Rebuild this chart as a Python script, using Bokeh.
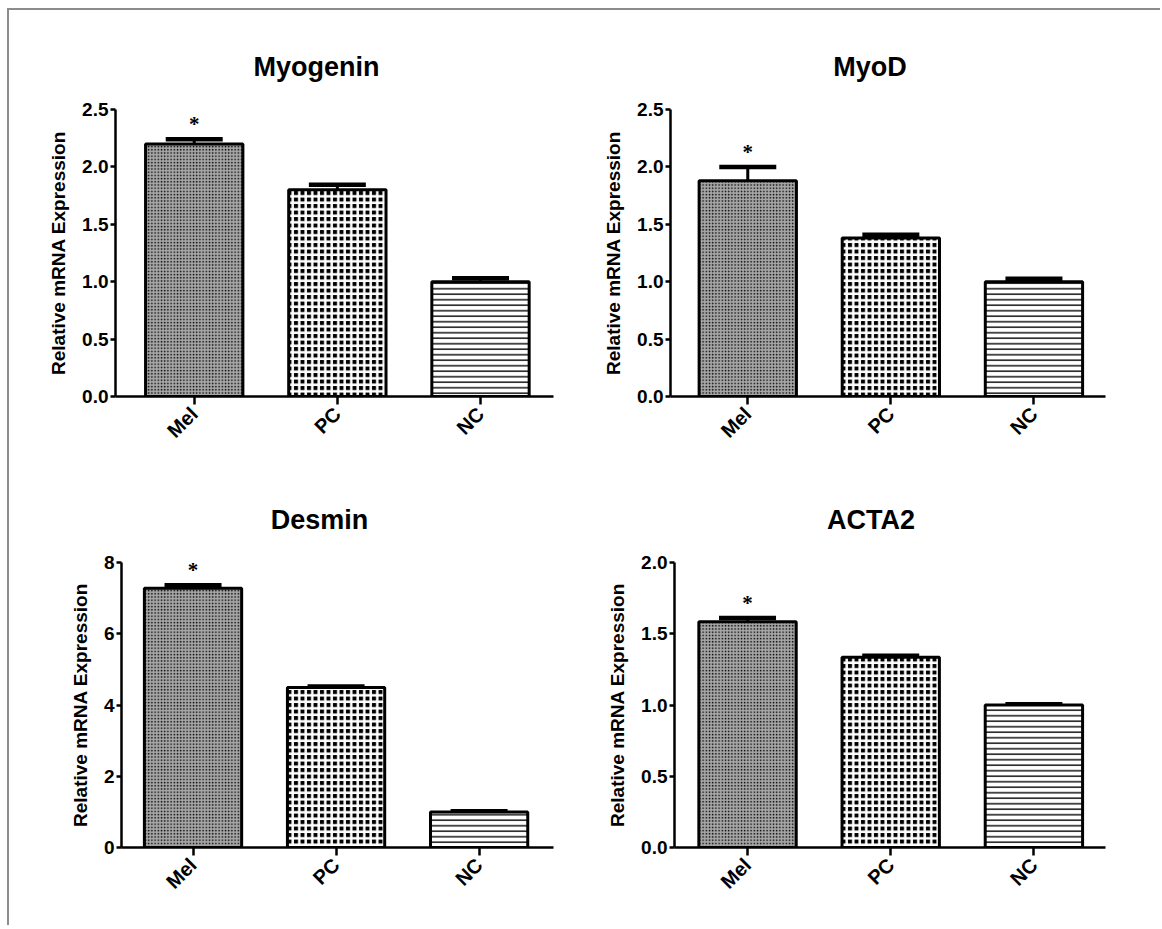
from math import pi
from bokeh.plotting import figure
from bokeh.layouts import row, column
from bokeh.models import (ColumnDataSource, Whisker, TeeHead, LabelSet,
                          FixedTicker, NumeralTickFormatter, Range1d)
from bokeh.embed import file_html
from bokeh.resources import INLINE

# ---------------- data ----------------
groups = ["Mel", "PC", "NC"]
significance = ["*", "", ""]

myogenin_mean = [2.20, 1.80, 1.00]
myogenin_err = [0.04, 0.045, 0.03]

myod_mean = [1.88, 1.38, 1.00]
myod_err = [0.12, 0.03, 0.025]

desmin_mean = [7.28, 4.49, 1.00]
desmin_err = [0.08, 0.03, 0.02]

acta2_mean = [1.585, 1.335, 1.00]
acta2_err = [0.025, 0.01, 0.006]

ticks_25 = [0.0, 0.5, 1.0, 1.5, 2.0, 2.5]
ticks_8 = [0, 2, 4, 6, 8]
ticks_20 = [0.0, 0.5, 1.0, 1.5, 2.0]

y_label = "Relative mRNA Expression"

# ---------------- styles ----------------
FONT = "Liberation Sans"
TITLE_PX = 27
# Arial/Liberation bold advance widths (em) for the title glyphs
EM = {"M": 0.833, "y": 0.556, "o": 0.611, "g": 0.611, "e": 0.556, "n": 0.611,
      "i": 0.278, "D": 0.722, "s": 0.556, "m": 0.889, "A": 0.722, "C": 0.722,
      "T": 0.611, "2": 0.556}

fill_colors = ["#a6a6a6", "black", "white"]
hatch_patterns = ["dot", "cross", "horizontal_line"]
hatch_scales = [3.2, 6.5, 5.5]
hatch_colors = ["black", "white", "#222222"]
hatch_weights = [1.0, 2.5, 1.6]


def panel(name, mean, err, yticks, yfmt, xr, w, h, bl, br, bt, bb, title_shift):
    p = figure(width=w, height=h, x_range=Range1d(*xr),
               y_range=Range1d(0, yticks[-1]),
               output_backend="svg", toolbar_location=None,
               min_border_left=bl, min_border_right=br,
               min_border_top=bt, min_border_bottom=bb)
    frame_w = w - bl - br
    text_w = sum(EM.get(c, 0.6) for c in name) * TITLE_PX
    p.title.text = name
    p.title.text_font = FONT
    p.title.text_font_size = f"{TITLE_PX}px"
    p.title.text_font_style = "bold"
    p.title.text_color = "black"
    p.title.align = "left"
    p.title.offset = frame_w / 2 + title_shift - text_w / 2
    p.title.standoff = 56
    p.outline_line_color = None
    p.xgrid.visible = False
    p.ygrid.visible = False
    p.background_fill_color = "white"
    p.border_fill_color = "white"

    x = list(range(len(groups)))
    src = ColumnDataSource(dict(
        x=x, top=mean,
        upper=[m + e for m, e in zip(mean, err)],
        lower=mean,
        label=significance,
        fill=fill_colors, pattern=hatch_patterns, scale=hatch_scales,
        hcolor=hatch_colors, hweight=hatch_weights,
    ))
    p.vbar(x="x", top="top", bottom=0, width=0.68, source=src,
           fill_color="fill", hatch_pattern="pattern", hatch_scale="scale",
           hatch_color="hcolor", hatch_weight="hweight",
           line_color="black", line_width=3)

    wh = Whisker(source=src, base="x", upper="upper", lower="lower",
                 dimension="height", line_color="black", line_width=3,
                 upper_head=TeeHead(size=57, line_width=4.5, line_color="black"),
                 lower_head=None)
    p.add_layout(wh)

    stars = LabelSet(x="x", y="upper", text="label", source=src,
                     text_align="center", text_baseline="alphabetic",
                     y_offset=8, text_font=FONT, text_font_size="21px",
                     text_font_style="bold", text_color="black")
    p.add_layout(stars)

    xa = p.xaxis[0]
    xa.ticker = FixedTicker(ticks=x)
    xa.major_label_overrides = {i: g for i, g in enumerate(groups)}
    xa.major_label_orientation = pi / 4
    xa.axis_line_width = 2.5
    xa.axis_line_color = "black"
    xa.major_tick_line_width = 2.5
    xa.major_tick_line_color = "black"
    xa.major_tick_out = 8
    xa.major_tick_in = 0
    xa.minor_tick_line_color = None
    xa.major_label_standoff = 6
    xa.major_label_text_font = FONT
    xa.major_label_text_font_size = "20px"
    xa.major_label_text_font_style = "bold"
    xa.major_label_text_color = "black"

    ya = p.yaxis[0]
    ya.ticker = FixedTicker(ticks=yticks)
    ya.formatter = NumeralTickFormatter(format=yfmt)
    ya.axis_label = y_label
    ya.axis_label_text_font = FONT
    ya.axis_label_text_font_size = "19px"
    ya.axis_label_text_font_style = "bold"
    ya.axis_label_text_color = "black"
    ya.axis_label_standoff = 10
    ya.axis_line_width = 2.5
    ya.axis_line_color = "black"
    ya.major_tick_line_width = 2.5
    ya.major_tick_line_color = "black"
    ya.major_tick_out = 5
    ya.major_tick_in = 0
    ya.minor_tick_line_color = None
    ya.major_label_standoff = 2
    ya.major_label_text_font = FONT
    ya.major_label_text_font_size = "19px"
    ya.major_label_text_font_style = "bold"
    ya.major_label_text_color = "black"
    return p


p1 = panel("Myogenin", myogenin_mean, myogenin_err, ticks_25, "0.0",
           (-0.55, 2.51), 580, 460, 106, 36, 99, 74, -18)
p2 = panel("MyoD", myod_mean, myod_err, ticks_25, "0.0",
           (-0.54, 2.50), 571, 460, 81, 55, 99, 74, -18)
p3 = panel("Desmin", desmin_mean, desmin_err, ticks_8, "0",
           (-0.50, 2.52), 580, 455, 112, 36, 92, 78, -18)
p4 = panel("ACTA2", acta2_mean, acta2_err, ticks_20, "0.0",
           (-0.51, 2.50), 571, 455, 85, 55, 92, 78, -18)

layout = column(row(p1, p2), row(p3, p4),
                margin=(8, 0, 0, 7),
                styles={"border-top": "2px solid #8c8c8c",
                        "border-left": "2px solid #8c8c8c"})

open("out.html", "w").write(file_html(layout, INLINE))
